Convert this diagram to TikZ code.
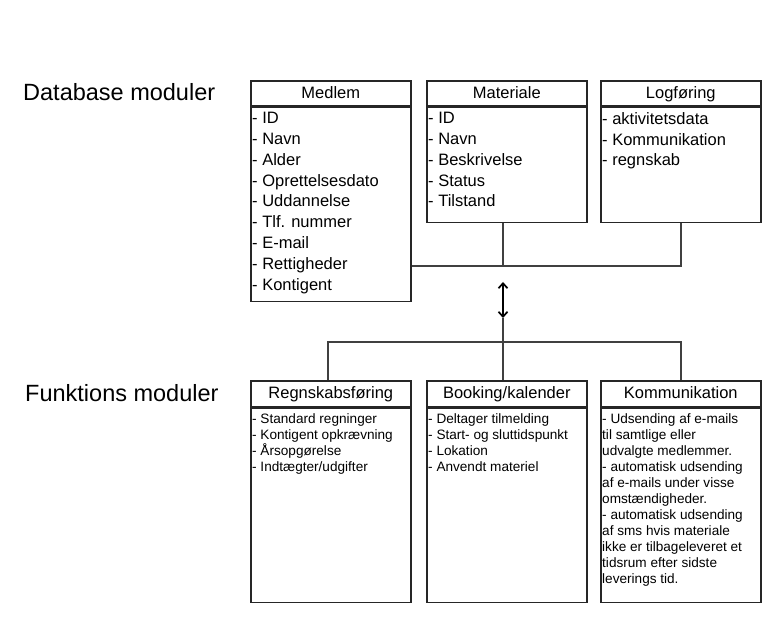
\documentclass[tikz,border=0pt]{standalone}
\usepackage{fontspec}
\setmainfont{Liberation Sans}
\usetikzlibrary{arrows.meta,positioning}

\tikzset{
  modlabel/.style={anchor=base west, inner sep=0pt, font=\fontsize{23.5}{28}\selectfont},
  modhead/.style={draw=black!85, line width=1.6pt, anchor=north west, inner sep=0pt,
                  minimum width=160pt, minimum height=25pt, text height=12pt, text depth=2pt,
                  font=\fontsize{16.5}{19}\selectfont},
  modbody/.style={draw=black!85, line width=1.6pt, anchor=north west, inner sep=0pt,
                  minimum width=160pt},
  bigitems/.style={anchor=north west, align=left, inner xsep=2pt, inner ysep=5.5pt,
                   font=\fontsize{16.5}{20.8}\selectfont},
  smallitems/.style={anchor=north west, align=left, inner xsep=2pt, inner ysep=5.5pt,
                     font=\fontsize{13.6}{16}\selectfont},
  link/.style={draw=black!75, line width=1.7pt},
}

\begin{document}
\begin{tikzpicture}[x=1pt, y=-1pt]
  \useasboundingbox (0,0) rectangle (782,620);
  % Row labels
  \node[modlabel] (dblabel) at (23,101) {Database moduler};
  \node[modlabel] (fnlabel) at (25,401) {Funktions moduler};
  % Database modules
  \node[modhead] (medlemh) at (250,80) {Medlem};
  \node[modbody, minimum height=194pt] (medlemb) at (medlemh.south west) {};
  \node[bigitems] (medlemt) at (medlemb.north west)
    {- ID\\- Navn\\- Alder\\- Oprettelsesdato\\- Uddannelse\\- Tlf. nummer\\- E-mail\\- Rettigheder\\- Kontigent};
  \node[modhead] (math) at (426,80) {Materiale};
  \node[modbody, minimum height=115pt] (matb) at (math.south west) {};
  \node[bigitems] (matt) at (matb.north west)
    {- ID\\- Navn\\- Beskrivelse\\- Status\\- Tilstand};
  \node[modhead] (logh) at (600,80) {Logføring};
  \node[modbody, minimum height=115pt] (logb) at (logh.south west) {};
  \node[bigitems] (logt) at (logb.north west)
    {- aktivitetsdata\\- Kommunikation\\- regnskab};
  % Function modules
  \node[modhead, minimum height=26pt] (regnh) at (250,380) {Regnskabsføring};
  \node[modbody, minimum height=194pt] (regnb) at (regnh.south west) {};
  \node[smallitems] (regnt) at (regnb.north west)
    {- Standard regninger\\- Kontigent opkrævning\\- Årsopgørelse\\- Indtægter/udgifter};
  \node[modhead, minimum height=26pt] (bookh) at (426,380) {Booking/kalender};
  \node[modbody, minimum height=194pt] (bookb) at (bookh.south west) {};
  \node[smallitems] (bookt) at (bookb.north west)
    {- Deltager tilmelding\\- Start- og sluttidspunkt\\- Lokation\\- Anvendt materiel};
  \node[modhead, minimum height=26pt] (kommh) at (600,380) {Kommunikation};
  \node[modbody, minimum height=194pt] (kommb) at (kommh.south west) {};
  \node[smallitems] (kommt) at (kommb.north west)
    {- Udsending af e-mails\\til samtlige eller\\udvalgte medlemmer.\\- automatisk udsending\\af e-mails under visse\\omstændigheder.\\- automatisk udsending\\af sms hvis materiale\\ikke er tilbageleveret et\\tidsrum efter sidste\\leverings tid.};
  % Connectors
  \coordinate (dbjoin) at (503,266);
  \coordinate (fnjoin) at (503,342);
  \coordinate (arrtop) at (503,282);
  \coordinate (arrbot) at (503,318);
  \draw[link] (logb.south) |- (dbjoin -| medlemb.east);
  \draw[link] (matb.south -| dbjoin) -- (dbjoin);
  \draw[{Straight Barb[length=5pt,width=9pt]}-{Straight Barb[length=5pt,width=9pt]}, line width=1.7pt]
    (arrtop) -- (arrbot);
  \draw[link] (arrbot) -- (bookh.north -| arrbot);
  \draw[link] ([xshift=-3pt]regnh.north) |- (fnjoin) -| (kommh.north);
\end{tikzpicture}
\end{document}
